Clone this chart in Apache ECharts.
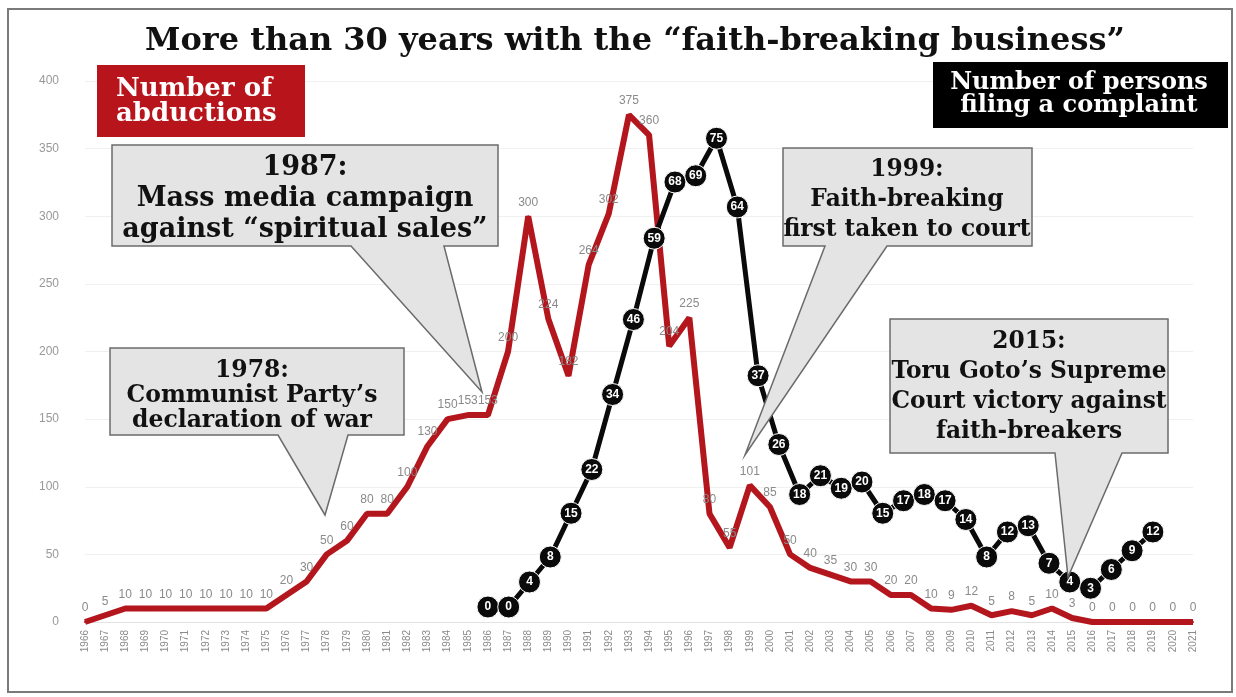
<!DOCTYPE html>
<html>
<head>
<meta charset="utf-8">
<title>Faith-breaking business</title>
<script src="https://cdn.jsdelivr.net/npm/echarts@6/dist/echarts.min.js"></script>
<style>
  html, body { margin: 0; padding: 0; background: #fff; }
  #chart { width: 1236px; height: 697px; }
</style>
</head>
<body>
<div id="chart"></div>
<script>
// abductions per year, 1966-2021
const years = ['1966', '1967', '1968', '1969', '1970', '1971', '1972', '1973', '1974', '1975',
  '1976', '1977', '1978', '1979', '1980', '1981', '1982', '1983', '1984', '1985',
  '1986', '1987', '1988', '1989', '1990', '1991', '1992', '1993', '1994', '1995',
  '1996', '1997', '1998', '1999', '2000', '2001', '2002', '2003', '2004', '2005',
  '2006', '2007', '2008', '2009', '2010', '2011', '2012', '2013', '2014', '2015',
  '2016', '2017', '2018', '2019', '2020', '2021'];
const abductions = [0, 5, 10, 10, 10, 10, 10, 10, 10, 10,
  20, 30, 50, 60, 80, 80, 100, 130, 150, 153,
  153, 200, 300, 224, 182, 264, 302, 375, 360, 204,
  225, 80, 55, 101, 85, 50, 40, 35, 30, 30,
  20, 20, 10, 9, 12, 5, 8, 5, 10, 3,
  0, 0, 0, 0, 0, 0];

// persons filing a complaint (overlaid, own scale)
const complaintYears = [1986, 1987, 1988, 1989, 1990, 1991, 1992, 1993, 1994, 1995,
  1996, 1997, 1998, 1999, 2000, 2001, 2002, 2003, 2004, 2005,
  2006, 2007, 2008, 2009, 2010, 2011, 2012, 2013, 2014, 2015,
  2016, 2017, 2018];
const complaints = [0, 0, 4, 8, 15, 22, 34, 46, 59, 68,
  69, 75, 64, 37, 26, 18, 21, 19, 20, 15,
  17, 18, 17, 14, 8, 12, 13, 7, 4, 3,
  6, 9, 12];

const yTicks = [0, 50, 100, 150, 200, 250, 300, 350, 400];

const SERIF = '"DejaVu Serif", "Liberation Serif", serif';

function callout(x0, y0, x1, y1, b1, b2, tx, ty) {
  return {
    type: 'polygon',
    z: 100,
    shape: { points: [[x0, y0], [x1, y0], [x1, y1], [b2, y1], [tx, ty], [b1, y1], [x0, y1]] },
    style: { fill: '#e4e4e4', stroke: '#6b6b6b', lineWidth: 1.5 }
  };
}

function boxText(x, y, text, size, lh, color) {
  return {
    type: 'text',
    z: 101,
    x: x,
    y: y,
    style: {
      text: text,
      font: 'bold ' + size + 'px ' + SERIF,
      fill: color || '#111',
      align: 'center',
      verticalAlign: 'top',
      lineHeight: lh
    }
  };
}

const chart = echarts.init(document.getElementById('chart'));
chart.setOption({
  backgroundColor: '#fff',
  animation: false,
  title: {
    text: 'More than 30 years with the \u201cfaith-breaking business\u201d',
    left: 140,
    top: 21,
    textStyle: { fontFamily: SERIF, fontWeight: 'bold', fontSize: 32, color: '#111' }
  },
  grid: { left: 85, right: 43, top: 81, bottom: 75 },
  xAxis: [
    {
      type: 'category',
      data: years,
      boundaryGap: false,
      axisLine: { lineStyle: { color: '#e2e2e2' } },
      axisTick: { show: false },
      axisLabel: { rotate: 90, fontSize: 10, color: '#8a8a8a', margin: 8, interval: 0, fontFamily: 'Liberation Sans' }
    },
    {
      type: 'value',
      min: 1966.61,
      max: 2019.93,
      show: false
    }
  ],
  yAxis: [
    {
      type: 'value',
      min: yTicks[0],
      max: yTicks[yTicks.length - 1],
      interval: 50,
      axisLine: { show: false },
      axisTick: { show: false },
      axisLabel: { fontSize: 12, color: '#999', margin: 26, fontFamily: 'Liberation Sans' },
      splitLine: { lineStyle: { color: '#f0f0f0' } }
    },
    {
      type: 'value',
      min: -2.4,
      max: 84.16,
      show: false
    }
  ],
  series: [
    {
      name: 'Number of abductions',
      type: 'line',
      data: abductions,
      symbol: 'circle',
      symbolSize: 2,
      showAllSymbol: true,
      itemStyle: { color: '#b3161c' },
      lineStyle: { color: '#b3161c', width: 6 },
      label: {
        show: true,
        position: 'top',
        distance: 7,
        fontSize: 12,
        color: '#8a8a8a',
        fontFamily: 'Liberation Sans'
      },
      z: 2
    },
    {
      name: 'Number of persons filing a complaint',
      type: 'line',
      xAxisIndex: 1,
      yAxisIndex: 1,
      data: complaintYears.map((y, i) => [y, complaints[i]]),
      symbol: 'circle',
      symbolSize: 22,
      itemStyle: { color: '#0a0a0a', borderColor: '#fff', borderWidth: 1 },
      lineStyle: { color: '#0a0a0a', width: 5 },
      label: {
        show: true,
        position: 'inside',
        color: '#fff',
        fontWeight: 'bold',
        fontSize: 12,
        fontFamily: 'Liberation Sans',
        formatter: p => p.value[1]
      },
      z: 3
    }
  ],
  graphic: [
    // outer frame
    { type: 'rect', z: 0, shape: { x: 8, y: 9, width: 1224, height: 683 }, style: { fill: null, stroke: '#7a7a7a', lineWidth: 2 } },

    // series labels
    { type: 'rect', z: 100, shape: { x: 97, y: 65, width: 208, height: 72 }, style: { fill: '#b8141b' } },
    { type: 'text', z: 101, x: 116, y: 77, style: { text: 'Number of\nabductions', font: 'bold 26px ' + SERIF, fill: '#fff', align: 'left', verticalAlign: 'top', lineHeight: 25 } },
    { type: 'rect', z: 100, shape: { x: 933, y: 62, width: 295, height: 66 }, style: { fill: '#000' } },
    boxText(1079, 71, 'Number of persons\nfiling a complaint', 24, 23, '#fff'),

    // 1987
    callout(112, 145, 498, 246, 351, 444, 482, 392),
    boxText(305, 152, '1987:\nMass media campaign\nagainst \u201cspiritual sales\u201d', 27, 31),

    // 1978
    callout(110, 348, 404, 435, 278, 348, 325, 515),
    boxText(252, 358, '1978:\nCommunist Party\u2019s\ndeclaration of war', 23.5, 25),

    // 1999
    callout(783, 148, 1032, 246, 825, 887, 745, 455),
    boxText(907, 155, '1999:\nFaith-breaking\nfirst taken to court', 23.3, 30),

    // 2015
    callout(890, 319, 1168, 453, 1055, 1122, 1068, 577),
    boxText(1029, 327, '2015:\nToru Goto\u2019s Supreme\nCourt victory against\nfaith-breakers', 23.3, 30)
  ]
});
</script>
</body>
</html>
